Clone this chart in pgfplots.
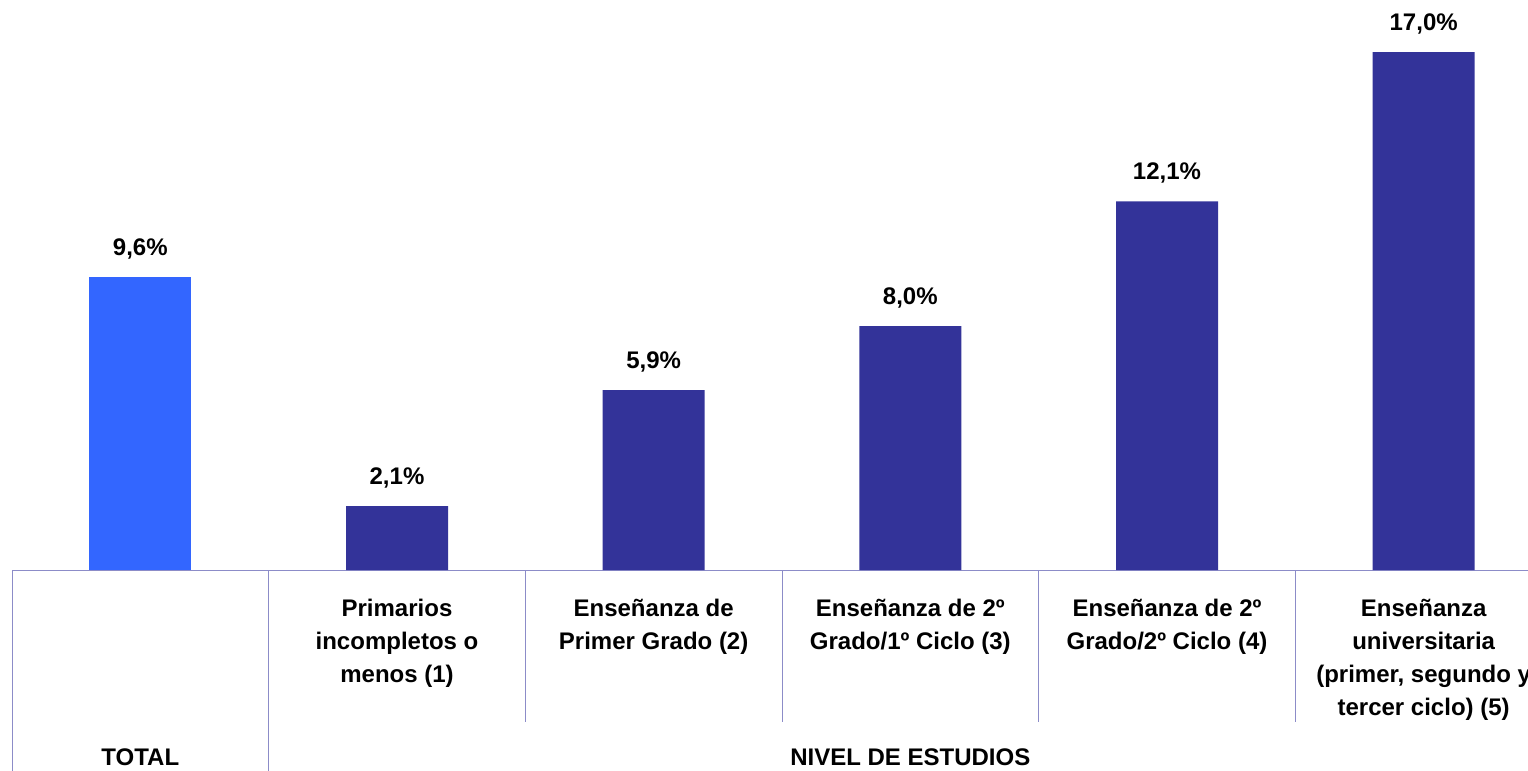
\documentclass[border=0pt]{standalone}
\usepackage{pgfplots}
\pgfplotsset{compat=1.18}
\usepackage{fontspec}
\setmainfont{Liberation Sans}

\definecolor{totalbar}{HTML}{3366FF}
\definecolor{nivelbar}{HTML}{333399}
\definecolor{rulecol}{RGB}{140,140,200}

\begin{document}
\begin{tikzpicture}
  \begin{axis}[
      name=ax,
      scale only axis,
      width=770pt, height=285pt,
      ybar, bar width=51pt, bar shift=0pt,
      xmin=-0.5, xmax=5.5,
      ymin=0, ymax=18.707,
      clip=false,
      axis x line*=bottom,
      hide y axis,
      axis line style={draw=rulecol, line width=0.5pt},
      xtick={0,1,2,3,4,5},
      major tick length=0pt,
      xticklabels={
        {},
        {Primarios\\incompletos o\\menos (1)},
        {Enseñanza de\\Primer Grado (2)},
        {Enseñanza de 2º\\Grado/1º Ciclo (3)},
        {Enseñanza de 2º\\Grado/2º Ciclo (4)},
        {Enseñanza\\universitaria\\(primer, segundo y\\tercer ciclo) (5)}
      },
      xticklabel style={anchor=north, inner sep=0pt, yshift=-14.5pt,
        align=center, font=\bfseries\fontsize{12}{16.5}\selectfont},
      /pgf/number format/assume math mode=true,
      nodes near coords={\pgfmathprintnumber[fixed,fixed zerofill,precision=1,use comma]{\pgfplotspointmeta}\%},
      every node near coord/.append style={anchor=base, yshift=10.75pt,
        font=\bfseries\fontsize{12}{14}\selectfont, text=black},
    ]
    \addplot[fill=totalbar, draw=none] coordinates {(0,9.6)};
    \addplot[fill=nivelbar, draw=none] coordinates {
      (1,2.1) (2,5.9) (3,8.0) (4,12.1) (5,17.0)
    };
    % category dividers below the axis
    \pgfplotsinvokeforeach{1.5,2.5,3.5,4.5,5.5}{
      \draw[rulecol, line width=0.5pt] (axis cs:#1,0) -- ([yshift=-76pt]axis cs:#1,0);
    }
    \pgfplotsinvokeforeach{-0.5,0.5}{
      \draw[rulecol, line width=0.5pt] (axis cs:#1,0) -- ([yshift=-101pt]axis cs:#1,0);
    }
    \node[anchor=base, font=\bfseries\fontsize{12}{14}\selectfont]
      at ([yshift=-97.5pt]axis cs:0,0) {TOTAL};
    \node[anchor=base, font=\bfseries\fontsize{12}{14}\selectfont]
      at ([yshift=-97.5pt]axis cs:3,0) {NIVEL DE ESTUDIOS};
  \end{axis}
  \pgfresetboundingbox
  \path[use as bounding box] ([xshift=-6pt,yshift=-100.5pt]ax.south west)
    rectangle ([xshift=758pt]ax.north west);
\end{tikzpicture}
\end{document}
